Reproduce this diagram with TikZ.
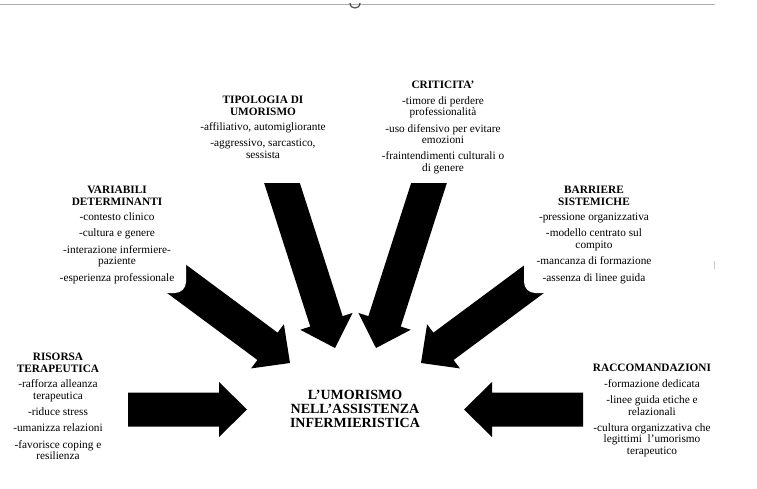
\documentclass[tikz,border=0pt]{standalone}
\usepackage{fontspec}
\setmainfont{Liberation Serif}
\usetikzlibrary{calc}
\newcommand\blockarrow[2]{%
  \coordinate (#1-h) at ($(#2)!28pt!(#1)$);
  \fill[blk] ($(#1)!17pt!90:(#2)$) -- ($(#1-h)!17pt!90:(#2)$) -- ($(#1-h)!27.5pt!90:(#2)$) -- (#2)
    -- ($(#1-h)!27.5pt!-90:(#2)$) -- ($(#1-h)!17pt!-90:(#2)$) -- ($(#1)!17pt!-90:(#2)$) -- cycle;}
\begin{document}
\begin{tikzpicture}[x=1pt,y=-1pt,
  blk/.style={fill=black,draw=none},
  cover/.style={fill=white,draw=none,rounded corners=11pt},
  item/.style={align=center,inner sep=0pt,anchor=north,font=\fontsize{11.3}{11.7}\selectfont},
  hub/.style={align=center,inner sep=0pt,anchor=north,font=\bfseries\fontsize{14}{14}\selectfont},
  edgeline/.style={draw=black!32,line width=0.9pt}]
\useasboundingbox (0,0) rectangle (757,489);
% screenshot artefacts
\draw[edgeline] (0,4) -- (715,4);
\draw[black!70,line width=1.2pt] (350,3) .. controls (350,9.7) and (360,9.7) .. (360,3);
\draw[black!22,line width=0.8pt] (714,261) -- (714,269);
% arrow end points
\coordinate (tipT) at (277.4,168.7);  \coordinate (tipH) at (335,348);
\coordinate (criT) at (433.6,168.7);  \coordinate (criH) at (376,348);
\coordinate (varT) at (160,266.6);    \coordinate (varH) at (290,363);
\coordinate (barT) at (551,266.6);    \coordinate (barH) at (421,363);
\coordinate (risT) at (128,409.5);    \coordinate (risH) at (247,409.5);
\coordinate (racT) at (583,409.5);    \coordinate (racH) at (464,409.5);
\blockarrow{tipT}{tipH}
\blockarrow{criT}{criH}
\blockarrow{varT}{varH}
\blockarrow{barT}{barH}
\blockarrow{risT}{risH}
\blockarrow{racT}{racH}
% white text boxes covering the arrow tails
\fill[cover] (185,85) rectangle (340,183);
\fill[cover] (375,70) rectangle (515,183);
\fill[cover] (45,178) rectangle (186,293);
\fill[cover] (524,178) rectangle (665,293);
% texts
\node[item] (tipologia) at (263,96.2) {\textbf{TIPOLOGIA DI}\\\textbf{UMORISMO}\\[3.5pt]-affiliativo, automigliorante\\[4.5pt]-aggressivo, sarcastico,\\sessista};
\node[item] (criticita) at (443,81.2) {\textbf{CRITICITA’}\\[3.5pt]-timore di perdere\\professionalità\\[4.5pt]-uso difensivo per evitare\\emozioni\\[4.5pt]-fraintendimenti culturali o\\di genere};
\node[item] (variabili) at (117,186.2) {\textbf{VARIABILI}\\\textbf{DETERMINANTI}\\[3.5pt]-contesto clinico\\[4.5pt]-cultura e genere\\[4.5pt]-interazione infermiere-\\paziente\\[4.5pt]-esperienza professionale};
\node[item] (barriere) at (594,186.2) {\textbf{BARRIERE}\\\textbf{SISTEMICHE}\\[3.5pt]-pressione organizzativa\\[4.5pt]-modello centrato sul\\compito\\[4.5pt]-mancanza di formazione\\[4.5pt]-assenza di linee guida};
\node[item] (risorsa) at (58,353.3) {\textbf{RISORSA}\\\textbf{TERAPEUTICA}\\[3.5pt]-rafforza alleanza\\terapeutica\\[4.5pt]-riduce stress\\[4.5pt]-umanizza relazioni\\[4.5pt]-favorisce coping e\\resilienza};
\node[item] (raccomandazioni) at (652,364.3) {\textbf{RACCOMANDAZIONI}\\[3.5pt]-formazione dedicata\\[4.5pt]-linee guida etiche e\\relazionali\\[4.5pt]-cultura organizzativa che\\legittimi\ \ l’umorismo\\terapeutico};
\node[hub] (centro) at (355,390) {L’UMORISMO\\NELL’ASSISTENZA\\INFERMIERISTICA};
\end{tikzpicture}
\end{document}
